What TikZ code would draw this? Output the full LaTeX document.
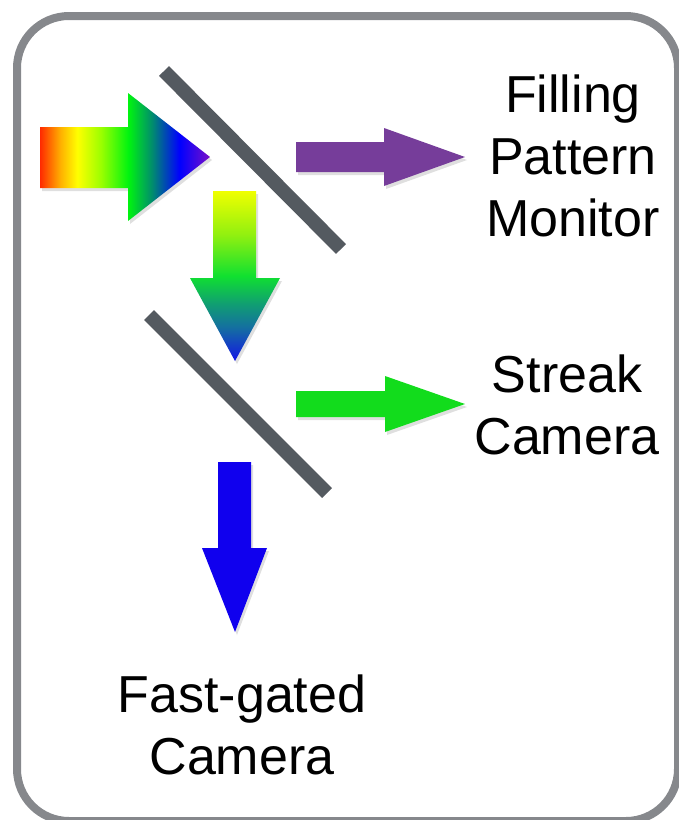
\documentclass[tikz,border=0pt]{standalone}
\usepackage{fontspec}
\setmainfont{Liberation Sans}
\usepackage{xcolor}
\usepackage{tikz}
\usetikzlibrary{shadows}

\definecolor{framegray}{HTML}{86888C}
\definecolor{mirrorgray}{HTML}{545A60}
\definecolor{monitorpurple}{HTML}{763D9A}
\definecolor{streakgreen}{HTML}{12DC1C}
\definecolor{gatedblue}{HTML}{1000EE}
\definecolor{specred}{HTML}{FF2A00}
\definecolor{specorange}{HTML}{FFB000}
\definecolor{specyellow}{HTML}{FFFF00}
\definecolor{speclime}{HTML}{9AFF00}
\definecolor{specgreen}{HTML}{00F410}
\definecolor{specteal}{HTML}{008C6E}
\definecolor{specblue}{HTML}{0000FF}
\definecolor{specviolet}{HTML}{7A10C8}
\definecolor{splityellow}{HTML}{F0FF00}
\definecolor{splitlime}{HTML}{90F010}
\definecolor{splitgreen}{HTML}{10E030}
\definecolor{splitteal}{HTML}{10A070}
\definecolor{splitpetrol}{HTML}{1470A0}
\definecolor{splitblue}{HTML}{1414E6}

\pgfdeclarehorizontalshading{rainbow}{100bp}{color(0bp)=(specred); color(25bp)=(specred);
    color(31bp)=(specorange); color(36bp)=(specyellow); color(43bp)=(speclime);
    color(51bp)=(specgreen); color(58bp)=(specteal); color(66bp)=(specblue);
    color(75bp)=(specviolet); color(100bp)=(specviolet)}
\pgfdeclareverticalshading{splitbeam}{100bp}{color(0bp)=(splitblue); color(25bp)=(splitblue);
    color(35bp)=(splitpetrol); color(42bp)=(splitteal); color(50bp)=(splitgreen);
    color(62bp)=(splitlime); color(75bp)=(splityellow); color(100bp)=(splityellow)}

\tikzstyle{panel} = [draw=framegray,
    line width=8pt,
    rounded corners=52pt]
\tikzstyle{mirror} = [draw=mirrorgray,
    line width=14pt]
\tikzstyle{beam} = [drop shadow={opacity=0.25, shadow xshift=2pt, shadow yshift=-3pt}]
\tikzstyle{device} = [inner sep=0pt,
    anchor=north,
    align=center,
    font=\fontsize{52}{62}\selectfont]

\begin{document}
\begin{tikzpicture}[x=1pt, y=-1pt]
        \useasboundingbox (0,0) rectangle (679,820);
        \clip (0,0) rectangle (679,820);
        \draw [panel] (17,16) rectangle (678,821);

        \draw [mirror] (164,71) -- (341,249);
        \draw [mirror] (149,315) -- (327,493);

        \shade [beam, shading=rainbow] (40,127) -- (128,127) -- (128,93) -- (210,157)
            -- (128,221) -- (128,188) -- (40,188) -- cycle;
        \fill [beam, monitorpurple] (296,142) -- (384,142) -- (384,128) -- (465,157)
            -- (384,186) -- (384,172) -- (296,172) -- cycle;
        \shade [beam, shading=splitbeam] (213,191) -- (256,191) -- (256,278) -- (280,278)
            -- (235,361) -- (190,278) -- (213,278) -- cycle;
        \fill [beam, streakgreen] (296,391) -- (385,391) -- (385,376) -- (465,404)
            -- (385,432) -- (385,417) -- (296,417) -- cycle;
        \fill [beam, gatedblue] (218,462) -- (251,462) -- (251,548) -- (267,548)
            -- (235,632) -- (202,548) -- (218,548) -- cycle;

        \node (monitor_label) [device] at (573,75) {Filling\\Pattern\\Monitor};
        \node (streak_label) [device] at (567,355) {Streak\\Camera};
        \node (gated_label) [device] at (242,675) {Fast-gated\\Camera};
    \end{tikzpicture}
\end{document}
